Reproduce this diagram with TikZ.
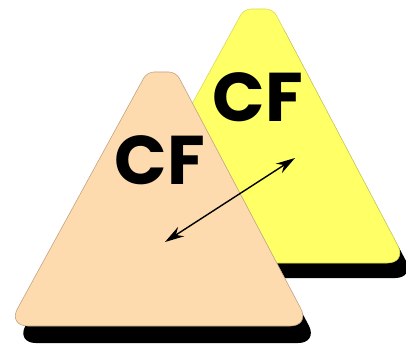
\documentclass[tikz,border=0pt]{standalone}
\usepackage{fontspec}
\usepackage{tikz}
\usepackage{xcolor}
\usetikzlibrary{arrows.meta}
\newfontfamily\cffont{Poppins}[UprightFont=* Bold]
\definecolor{peachfill}{RGB}{253,219,174}
\definecolor{peachedge}{RGB}{190,160,130}
\definecolor{yellowfill}{RGB}{255,255,102}
\definecolor{yellowedge}{RGB}{215,215,90}

\begin{document}
\begin{tikzpicture}[
        x=0.025cm, y=-0.025cm,
        % Ombre portée sous chaque triangle
        shadowTri/.style={
            fill=black
        },
        % Triangle avant (pêche)
        peachTri/.style={
            fill=peachfill,
            draw=peachedge,
            line width=0.4pt
        },
        % Triangle arrière (jaune)
        yellowTri/.style={
            fill=yellowfill,
            draw=yellowedge,
            line width=0.4pt
        },
        % Étiquette CF
        cfLabel/.style={
            inner sep=0pt,
            font=\cffont\fontsize{49}{49}\selectfont
        }
    ]

    \useasboundingbox (0,0) rectangle (406,346);

    % Triangle jaune et son ombre
    \fill[shadowTri, shift={(8,15)}, rounded corners=5] (244,9) -- (273,9) [rounded corners=14] -- (407,263) -- (105,263) [rounded corners=5] -- cycle;
    \path[yellowTri, rounded corners=5] (244,9) -- (273,9) [rounded corners=14] -- (407,263) -- (105,263) [rounded corners=5] -- cycle;

    % Triangle pêche et son ombre
    \fill[shadowTri, shift={(8,17)}, rounded corners=5] (147,72) -- (176,72) [rounded corners=14] -- (310,326) -- (8,326) [rounded corners=5] -- cycle;
    \path[peachTri, rounded corners=5] (147,72) -- (176,72) [rounded corners=14] -- (310,326) -- (8,326) [rounded corners=5] -- cycle;

    % Étiquettes
    \node[cfLabel] (CFback) at (258,97) {CF};
    \node[cfLabel] (CFfront) at (160,160) {CF};

    % Flèche double entre les deux triangles
    \coordinate (endBack) at (295,158);
    \coordinate (endFront) at (165,242);
    \draw[{Stealth[length=4.8mm,width=2.8mm]}-{Stealth[length=4.8mm,width=2.8mm]}, line width=1pt] (endFront) -- (endBack);

    \end{tikzpicture}
\end{document}
